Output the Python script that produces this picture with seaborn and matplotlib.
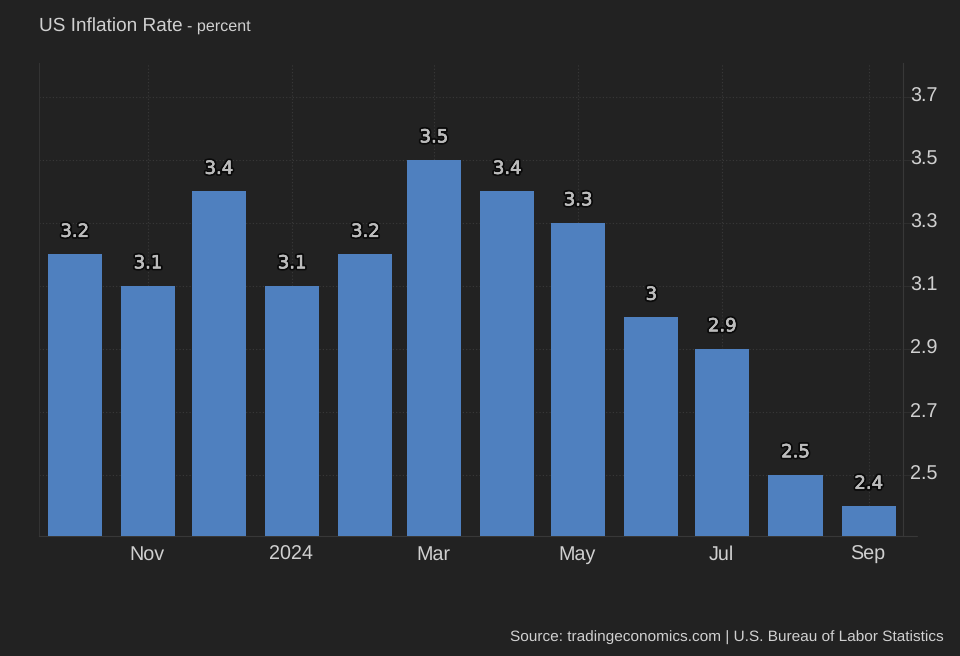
"""US inflation rate bars, dark tradingeconomics look."""

import matplotlib
matplotlib.use("Agg")
import matplotlib.dates as mdates
import matplotlib.patheffects as pe
import matplotlib.pyplot as plt
import matplotlib.transforms as mtrans
import pandas as pd
import seaborn as sns

months = ["2023-10-01", "2023-11-01", "2023-12-01", "2024-01-01", "2024-02-01", "2024-03-01",
          "2024-04-01", "2024-05-01", "2024-06-01", "2024-07-01", "2024-08-01", "2024-09-01"]
values = [3.2, 3.1, 3.4, 3.1, 3.2, 3.5, 3.4, 3.3, 3.0, 2.9, 2.5, 2.4]
tick_dates = ["2023-11-01", "2024-01-01", "2024-03-01", "2024-05-01", "2024-07-01", "2024-09-01"]
tick_labels = ["Nov", "2024", "Mar", "May", "Jul", "Sep"]
y_ticks = [2.5, 2.7, 2.9, 3.1, 3.3, 3.5, 3.7]

BG = "#222222"
BAR = "#4f80bf"
TEXT = "#d0d0d0"
LINE = "#383838"

sns.set_theme(style="dark", rc={"figure.facecolor": BG, "axes.facecolor": BG})
plt.rcParams["font.family"] = ["Liberation Sans", "DejaVu Sans"]
plt.rcParams["text.hinting"] = "no_hinting"

df = pd.DataFrame({"day": mdates.date2num(pd.to_datetime(months)), "value": values})

fig = plt.figure(figsize=(9.6, 6.56), dpi=100)
ax = fig.add_axes([39 / 960, 120 / 656, 864 / 960, 473 / 656])

sns.barplot(data=df, x="day", y="value", native_scale=True, width=0.79, color=BAR,
            saturation=1, errorbar=None, linewidth=0, ax=ax, zorder=3)

ax.set_xlim(df["day"].iloc[0] - 15.1, df["day"].iloc[-1] + 14.5)
ax.set_ylim(2.306, 3.808)
ax.set_xlabel("")
ax.set_ylabel("")

ax.set_xticks(mdates.date2num(pd.to_datetime(tick_dates)), tick_labels)
ax.set_yticks(y_ticks, [f"{v:.1f}" for v in y_ticks])
ax.yaxis.tick_right()
ax.grid(True, color="#3a3a3a", linestyle=(0, (1, 2)), linewidth=0.8, zorder=0)
ax.set_axisbelow(True)
ax.tick_params(axis="x", length=0, pad=7, labelsize=14.2, labelcolor=TEXT)
ax.tick_params(axis="y", length=9, width=0.8, color="#2e2e2e", pad=-4, labelsize=14.2, labelcolor=TEXT)

# y labels sit a little above their gridlines, x labels a touch left
shift = mtrans.ScaledTranslation(0, 2.5 / 100, fig.dpi_scale_trans)
for lab in ax.get_yticklabels():
    lab.set_transform(lab.get_transform() + shift)
shift_x = mtrans.ScaledTranslation(-1 / 100, 0, fig.dpi_scale_trans)
for lab in ax.get_xticklabels():
    lab.set_transform(lab.get_transform() + shift_x)

for name, spine in ax.spines.items():
    spine.set_visible(True)
    spine.set_color(LINE)
    spine.set_linewidth(0.8)
ax.spines["left"].set_color("#333333")
ax.spines["top"].set_visible(False)

# the base line runs on past the right axis a bit
ax.plot([1, 1.016], [0, 0], transform=ax.transAxes, clip_on=False, color=LINE, linewidth=0.8)

labels = [f"{v:g}" for v in values]
texts = ax.bar_label(ax.containers[0], labels=labels, padding=10, fontsize=13, color="#bcbcbc",
                     family="DejaVu Sans", zorder=5)
for t in texts:
    t.set_path_effects([
        pe.withStroke(linewidth=3, foreground="#0a0a0a"),
        pe.withStroke(linewidth=0.4, foreground="#bcbcbc"),
    ])

fig.text(39 / 960, 1 - 31 / 656, "US Inflation Rate", fontsize=13.7, color=TEXT)
fig.text(187 / 960, 1 - 31 / 656, "- percent", fontsize=11.6, color=TEXT)
fig.text(944 / 960, 1 - 642 / 656, "Source: tradingeconomics.com | U.S. Bureau of Labor Statistics",
         fontsize=11.1, color=TEXT, ha="right")

fig.savefig("out.png", dpi=100, facecolor=BG)
